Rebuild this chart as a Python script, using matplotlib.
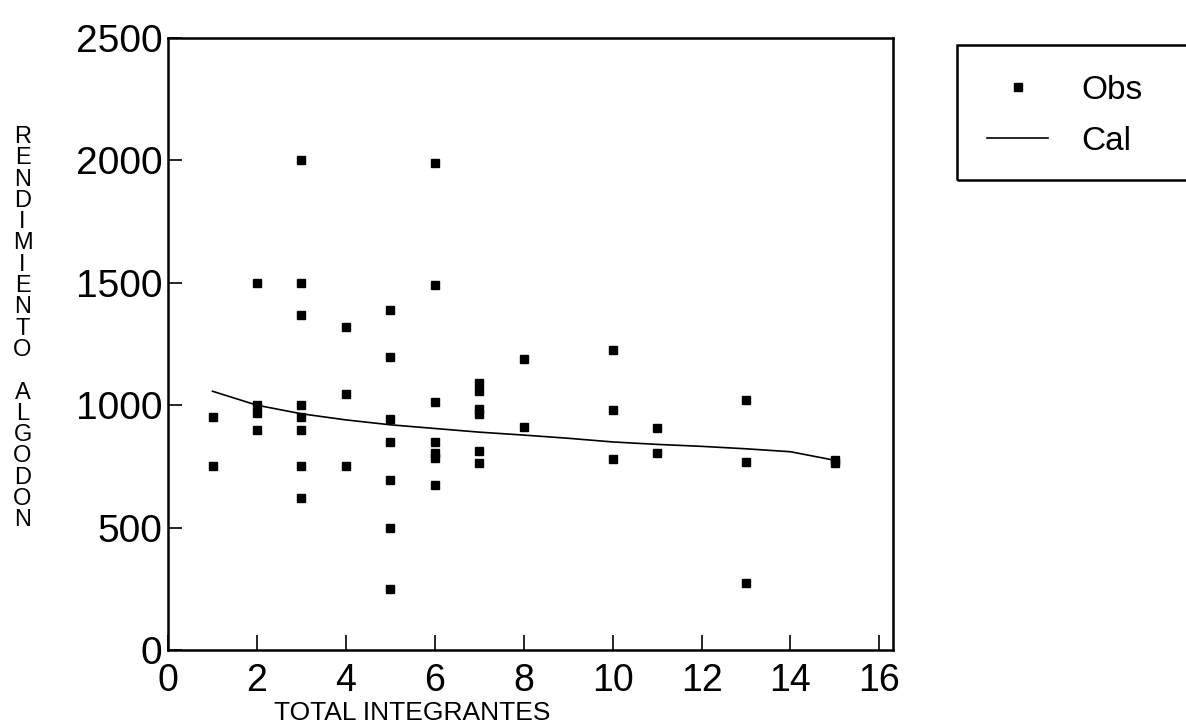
import matplotlib.pyplot as plt
from matplotlib.patches import Rectangle

# --- datos observados ---
obs_x = [1, 1,
         2, 2, 2, 2,
         3, 3, 3, 3, 3, 3, 3, 3,
         4, 4, 4,
         5, 5, 5, 5, 5, 5, 5,
         6, 6, 6, 6, 6, 6, 6,
         7, 7, 7, 7, 7, 7,
         8, 8,
         10, 10, 10,
         11, 11,
         13, 13, 13,
         15, 15]
obs_y = [950, 750,
         1500, 1000, 970, 900,
         2000, 1500, 1370, 1000, 950, 900, 750, 620,
         1320, 1045, 750,
         1390, 1195, 945, 850, 695, 500, 250,
         1990, 1490, 1015, 850, 805, 785, 675,
         1090, 1060, 985, 965, 815, 765,
         1190, 910,
         1225, 980, 780,
         905, 805,
         1020, 770, 275,
         775, 765]

# --- curva calculada ---
cal_x = [1, 2, 3, 4, 5, 6, 7, 8, 9, 10, 11, 12, 13, 14, 15]
cal_y = [1057, 1000, 965, 940, 920, 905, 890, 878, 865, 850, 840, 832, 822, 810, 775]

x_ticks = [0, 2, 4, 6, 8, 10, 12, 14, 16]
y_ticks = [0, 500, 1000, 1500, 2000, 2500]
y_label = "RENDIMIENTO ALGODON"

plt.rcParams['font.family'] = ['Liberation Sans', 'DejaVu Sans']

fig = plt.figure(figsize=(11.86, 7.28), dpi=100)
ax = fig.add_axes([0.1417, 0.107, 0.611, 0.841])

ax.plot(obs_x, obs_y, 's', color='black', markersize=5.5, label='Obs', linestyle='none')
ax.plot(cal_x, cal_y, '-', color='black', linewidth=1.2, label='Cal')

ax.set_xlim(0, 16.3)
ax.set_ylim(0, 2500)
ax.set_xticks(x_ticks)
ax.set_yticks(y_ticks)
ax.tick_params(axis='both', direction='in', width=1.2, color='black')
ax.tick_params(axis='x', length=11, pad=9, labelsize=27)
ax.tick_params(axis='y', length=10, pad=4, labelsize=28)
for s in ax.spines.values():
    s.set_linewidth(1.8)

ax.set_xlabel("TOTAL INTEGRANTES", fontsize=19)
ax.xaxis.set_label_coords(0.337, -0.083)

# etiqueta vertical con letras apiladas
for i, ch in enumerate(y_label):
    fig.text(0.019, 1 - (137 + i * 21.3) / 728, ch, fontsize=17,
             ha='center', va='center')

# --- leyenda ---
fig.patches.append(Rectangle((957 / 1186, 1 - 180 / 728), 0.3, 135 / 728,
                             transform=fig.transFigure, fill=False,
                             edgecolor='black', linewidth=1.8))
ax.legend(loc='upper left', bbox_to_anchor=(970 / 1186, 1 - 58 / 728),
          bbox_transform=fig.transFigure, frameon=False, fontsize=24,
          handlelength=1.85, handletextpad=1.0, labelspacing=0.6,
          borderpad=0, markerscale=1.0)

fig.savefig("out.png", dpi=100)
